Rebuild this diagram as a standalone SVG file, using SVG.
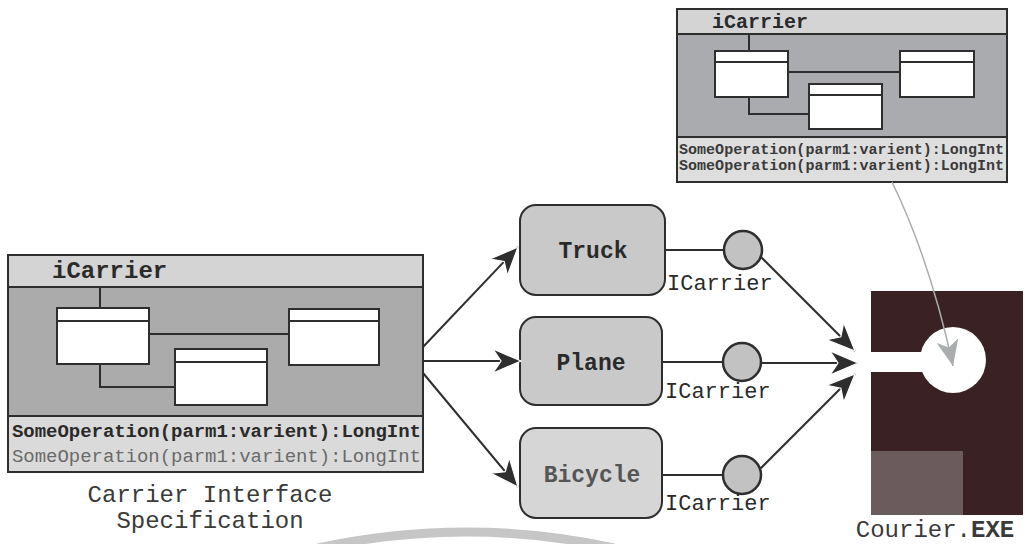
<svg xmlns="http://www.w3.org/2000/svg" width="1025" height="544" viewBox="0 0 1025 544">
<style>
.mono{font-family:"Liberation Mono","Courier New",monospace;}
.b{font-weight:bold;}
.frame{stroke:#2e2e2e;stroke-width:2;}
.cls{fill:#ffffff;stroke:#2e2e2e;stroke-width:2;}
.wire{fill:none;stroke:#2e2e2e;stroke-width:2;}
.conn{fill:none;stroke:#2e2e2e;stroke-width:2;}
.node{fill:#c9c9c9;stroke:#2e2e2e;stroke-width:2;}
.lolly{fill:#c2c2c2;stroke:#2e2e2e;stroke-width:2.5;}
</style>
<defs>
<marker id="ah" viewBox="0 0 30 26" refX="29" refY="13" markerWidth="30" markerHeight="26" markerUnits="userSpaceOnUse" orient="auto">
<path d="M1,1 L29,13 L1,25 L9,13 Z" fill="#2e2e2e" stroke="#ffffff" stroke-width="1.2"/>
</marker>
<marker id="ahg" viewBox="0 0 28 24" refX="27" refY="12" markerWidth="28" markerHeight="24" markerUnits="userSpaceOnUse" orient="auto">
<path d="M1,1 L27,12 L1,23 L8,12 Z" fill="#a9adae"/>
</marker>
</defs>
<rect width="1025" height="544" fill="#ffffff"/>

<path d="M318 548 Q467 516 614 548" fill="none" stroke="#c6c6c6" stroke-width="9"/>

<g id="spec">
<rect x="8" y="255" width="415" height="32" fill="#d4d4d4"/>
<rect x="8" y="287" width="415" height="129" fill="#ababab"/>
<rect x="8" y="416" width="415" height="56" fill="#dadada"/>
<rect x="8" y="255" width="415" height="217" fill="none" class="frame"/>
<line x1="8" y1="287" x2="423" y2="287" class="frame"/>
<line x1="8" y1="416" x2="423" y2="416" class="frame"/>
<text x="52" y="278" class="mono b" font-size="24" fill="#2a2a2a">iCarrier</text>
<path d="M100 287 V308 M149 334 H289 M100 364 V387 H175" class="wire"/>
<rect x="57" y="308" width="92" height="56" class="cls"/>
<line x1="57" y1="321" x2="149" y2="321" class="wire"/>
<rect x="175" y="349" width="92" height="56" class="cls"/>
<line x1="175" y1="362" x2="267" y2="362" class="wire"/>
<rect x="289" y="309" width="90" height="56" class="cls"/>
<line x1="289" y1="321" x2="379" y2="321" class="wire"/>
<text x="12" y="437" class="mono b" font-size="19" fill="#2a2a2a" textLength="409">SomeOperation(parm1:varient):LongInt</text>
<text x="12" y="462" class="mono" font-size="19" fill="#6a6a6a" textLength="409">SomeOperation(parm1:varient):LongInt</text>
<text x="210" y="502" class="mono" font-size="24" fill="#3a3a3a" text-anchor="middle">Carrier Interface</text>
<text x="210" y="528" class="mono" font-size="24" fill="#3a3a3a" text-anchor="middle">Specification</text>
</g>

<g id="spec-top">
<rect x="677" y="9" width="330" height="25" fill="#d4d4d4"/>
<rect x="677" y="34" width="330" height="103" fill="#a9abae"/>
<rect x="677" y="137" width="330" height="45" fill="#dedede"/>
<rect x="677" y="9" width="330" height="173" fill="none" class="frame"/>
<line x1="677" y1="34" x2="1007" y2="34" class="frame"/>
<line x1="677" y1="137" x2="1007" y2="137" class="frame"/>
<text x="712" y="28" class="mono b" font-size="20" fill="#2a2a2a">iCarrier</text>
<path d="M749 34 V51 M788 72 H900 M749 97 V114 H809" class="wire"/>
<rect x="715" y="51" width="73" height="46" class="cls"/>
<line x1="715" y1="62" x2="788" y2="62" class="wire"/>
<rect x="809" y="84" width="73" height="45" class="cls"/>
<line x1="809" y1="95" x2="882" y2="95" class="wire"/>
<rect x="900" y="51" width="74" height="46" class="cls"/>
<line x1="900" y1="62" x2="974" y2="62" class="wire"/>
<text x="679" y="154" class="mono b" font-size="15" fill="#3a3a3a" textLength="325">SomeOperation(parm1:varient):LongInt</text>
<text x="679" y="170" class="mono b" font-size="15" fill="#3a3a3a" textLength="325">SomeOperation(parm1:varient):LongInt</text>
</g>

<g id="truck">
<rect x="520" y="205" width="145" height="90" rx="16" class="node"/>
<text x="593" y="258" class="mono b" font-size="23" fill="#2a2a2a" text-anchor="middle">Truck</text>
<line x1="665" y1="250" x2="724" y2="250" class="conn"/>
<circle cx="743" cy="250" r="19" class="lolly"/>
<text x="667" y="290" class="mono" font-size="22" fill="#2a2a2a">ICarrier</text>
</g>

<g id="plane">
<rect x="520" y="317" width="142" height="88" rx="16" class="node"/>
<text x="591" y="370" class="mono b" font-size="23" fill="#2a2a2a" text-anchor="middle">Plane</text>
<line x1="662" y1="362" x2="723" y2="362" class="conn"/>
<circle cx="742" cy="362" r="19" class="lolly"/>
<text x="665" y="398" class="mono" font-size="22" fill="#2a2a2a">ICarrier</text>
</g>

<g id="bicycle">
<rect x="520" y="428" width="142" height="90" rx="16" fill="#d6d6d6" stroke="#2e2e2e" stroke-width="2"/>
<text x="592" y="482" class="mono b" font-size="23" fill="#555555" text-anchor="middle">Bicycle</text>
<line x1="662" y1="475" x2="723" y2="475" class="conn"/>
<circle cx="742" cy="475" r="19" class="lolly" fill="#cacaca"/>
<text x="665" y="510" class="mono" font-size="22" fill="#2a2a2a">ICarrier</text>
</g>

<g id="courier">
<rect x="871" y="291" width="152" height="224" fill="#3a2224"/>
<rect x="871" y="451" width="92" height="64" fill="#6b5b5c"/>
<rect x="862" y="352" width="95" height="20" fill="#ffffff"/>
<circle cx="953" cy="360" r="33" fill="#ffffff"/>
<text x="935" y="537" class="mono" font-size="24" fill="#3a3a3a" text-anchor="middle">Courier.<tspan class="b">EXE</tspan></text>
</g>

<g id="connectors">
<line x1="423" y1="347" x2="518" y2="247" class="conn" marker-end="url(#ah)"/>
<line x1="423" y1="361" x2="521" y2="361" class="conn" marker-end="url(#ah)"/>
<line x1="423" y1="373" x2="518" y2="487" class="conn" stroke="#3a3a3a" marker-end="url(#ah)"/>
<line x1="761" y1="257" x2="855" y2="351" class="conn" marker-end="url(#ah)"/>
<line x1="761" y1="363" x2="858" y2="363" class="conn" marker-end="url(#ah)"/>
<line x1="760" y1="469" x2="855" y2="374" class="conn" marker-end="url(#ah)"/>
<path d="M892 182 Q930 260 953 366" fill="none" stroke="#a9adae" stroke-width="1.5" marker-end="url(#ahg)"/>
</g>
</svg>
